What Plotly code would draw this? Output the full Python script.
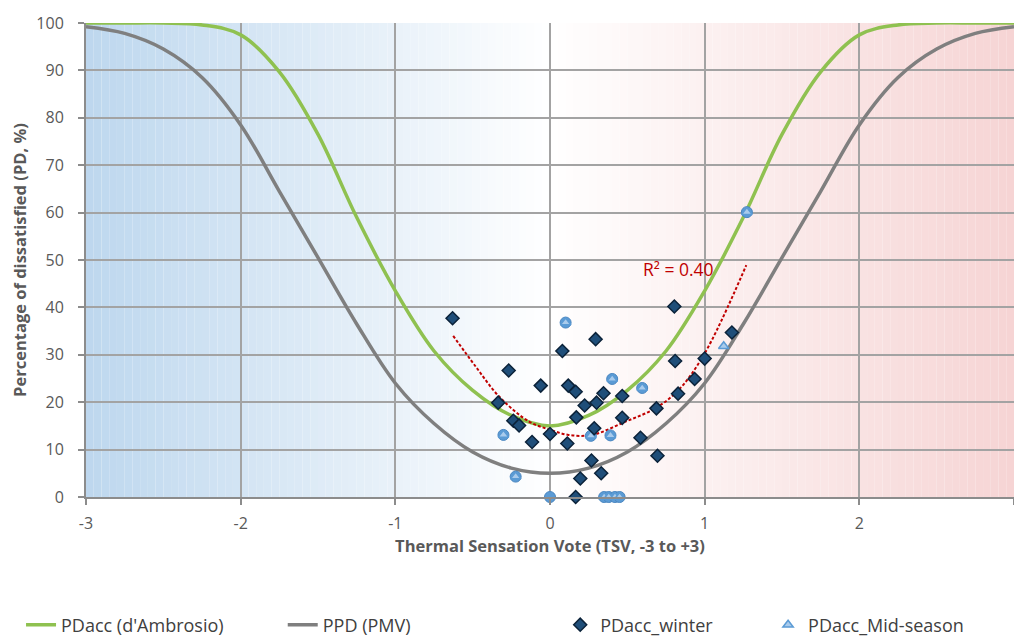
import plotly.graph_objects as go

# ---------------- data ----------------
tsv_curve = [-3.0, -2.75, -2.5, -2.25, -2.0, -1.75, -1.5, -1.25, -1.0, -0.75, -0.5, -0.25,
             0.0, 0.25, 0.5, 0.75, 1.0, 1.25, 1.5, 1.75, 2.0, 2.25, 2.5, 2.75, 3.0]
pdacc_ambrosio = [100, 100, 100, 99.6, 97.5, 89.7, 76.5, 59, 43.5, 30.8, 22.5, 17.2,
                  15, 17.2, 22.5, 30.8, 43.5, 59, 76.5, 89.7, 97.5, 99.6, 100, 100, 100]
ppd_pmv = [99.2, 97.8, 94.5, 88.5, 78.5, 64.5, 50.5, 36.5, 24, 15.5, 9.5, 6.1,
           5, 6.1, 9.5, 15.5, 24, 36.5, 50.5, 64.5, 78.5, 88.5, 94.5, 97.8, 99.2]

winter_tsv = [-0.63, 0.295, 0.08, -0.267, -0.06, 0.118, 0.166, 0.346, 0.467, -0.335,
              0.224, 0.301, 0.17, 0.467, -0.237, -0.2, 0.0, 0.286, -0.116, 0.112,
              0.268, 0.196, 0.331, 0.166, 0.804, 0.809, 1.0, 0.935, 0.828, 0.688,
              0.585, 0.695, 1.176]
winter_pd = [37.7, 33.3, 30.8, 26.7, 23.5, 23.5, 22.2, 21.9, 21.3, 19.9,
             19.3, 19.9, 16.8, 16.7, 16.1, 15.1, 13.3, 14.5, 11.6, 11.3,
             7.7, 3.9, 5.0, 0.0, 40.2, 28.7, 29.2, 24.9, 21.8, 18.7,
             12.5, 8.7, 34.7]

mid_tsv = [0.101, 0.402, 0.596, -0.301, 0.264, 0.391, -0.222, 0.35, 0.38, 0.42, 0.45, 1.123, 1.273]
mid_pd = [36.8, 24.9, 23.0, 13.1, 12.9, 13.0, 4.3, 0.0, 0.0, 0.0, 0.0, 31.8, 60.1]

other_tsv = [0.101, 0.402, 0.596, -0.301, 0.264, 0.391, -0.222, 0.0, 0.35, 0.38, 0.42, 0.45, 1.273]
other_pd = [36.8, 24.9, 23.0, 13.1, 12.9, 13.0, 4.3, 0.0, 0.0, 0.0, 0.0, 0.0, 60.1]

trend_tsv = [-0.626, -0.48, -0.329, -0.135, 0.0, 0.12, 0.273, 0.488, 0.68, 0.832, 1.0, 1.269]
trend_pd = [34.0, 27.5, 21.2, 15.9, 14.2, 13.1, 13.1, 15.9, 18.7, 22.6, 30.3, 48.9]

r2_label = "R² = 0.40"
x_ticks = [-3, -2, -1, 0, 1, 2, 3]
y_ticks = [0, 10, 20, 30, 40, 50, 60, 70, 80, 90, 100]

# ---------------- figure ----------------
fig = go.Figure()

def mix(c1, c2, t):
    return "rgb(%d,%d,%d)" % tuple(round(a + (b - a) * t) for a, b in zip(c1, c2))

blue = (189, 215, 238)
white = (255, 255, 255)
pink = (246, 212, 212)
n = 60
shapes = []
for i in range(n):
    x0 = -3 + 3 * i / n
    x1 = -3 + 3 * (i + 1) / n
    t = (i + 0.5) / n
    shapes.append(dict(type="rect", xref="x", yref="y", x0=x0, x1=x1, y0=0, y1=100,
                       fillcolor=mix(blue, white, t), line=dict(width=0), layer="below"))
for i in range(n):
    x0 = 3 * i / n
    x1 = 3 * (i + 1) / n
    t = (i + 0.5) / n
    shapes.append(dict(type="rect", xref="x", yref="y", x0=x0, x1=x1, y0=0, y1=100,
                       fillcolor=mix(white, pink, t), line=dict(width=0), layer="below"))

fig.add_trace(go.Scatter(x=tsv_curve, y=pdacc_ambrosio, mode="lines", name="PDacc (d'Ambrosio)",
                         line=dict(color="#8fc150", width=3.5, shape="spline", smoothing=1.0),
                         cliponaxis=False, legend="legend"))
fig.add_trace(go.Scatter(x=tsv_curve, y=ppd_pmv, mode="lines", name="PPD (PMV)",
                         line=dict(color="#7f7f7f", width=3.5, shape="spline", smoothing=1.0),
                         cliponaxis=False, legend="legend2"))
fig.add_trace(go.Scatter(x=trend_tsv, y=trend_pd, mode="lines", showlegend=False,
                         line=dict(color="#c00000", width=2, dash="3px,2px", shape="spline"),
                         cliponaxis=False))
fig.add_trace(go.Scatter(x=other_tsv, y=other_pd, mode="markers", showlegend=False,
                         marker=dict(symbol="circle", size=11, color="#5b9bd5",
                                     line=dict(color="#4a86c0", width=1)),
                         cliponaxis=False))
fig.add_trace(go.Scatter(x=mid_tsv, y=mid_pd, mode="markers", name="PDacc_Mid-season",
                         marker=dict(symbol="triangle-up", size=9, color="#a9cbec",
                                     line=dict(color="#5b9bd5", width=1.5)),
                         cliponaxis=False, legend="legend4"))
fig.add_trace(go.Scatter(x=winter_tsv, y=winter_pd, mode="markers", name="PDacc_winter",
                         marker=dict(symbol="diamond", size=10, color="#1f4e79",
                                     line=dict(color="#0b2239", width=1.5)),
                         cliponaxis=False, legend="legend3"))

fig.add_annotation(x=0.83, y=48.0, xref="x", yref="y", text=r2_label, showarrow=False,
                   font=dict(family="Open Sans, sans-serif", size=17.5, color="#c00000"))

tick_font = dict(family="Open Sans, sans-serif", size=16, color="#595959")
title_font = dict(family="Open Sans, sans-serif", size=16.5, color="#595959")
leg_font = dict(family="Open Sans, sans-serif", size=18, color="#404040")

def leg(x):
    return dict(x=x, y=-0.27, xanchor="left", yanchor="middle", orientation="h",
                font=leg_font, bgcolor="rgba(0,0,0,0)", borderwidth=0)

fig.update_layout(
    width=1014, height=639,
    margin=dict(l=86, r=0, t=23, b=142, autoexpand=False),
    paper_bgcolor="white", plot_bgcolor="white",
    shapes=shapes,
    xaxis=dict(range=[-3, 3], tickvals=x_ticks, ticktext=[str(v) for v in x_ticks],
               showgrid=True, gridcolor="#a3a3a3", gridwidth=1.5, zeroline=False,
               showline=True, linecolor="#8c8c8c", linewidth=2,
               ticks="outside", ticklen=6, tickcolor="#8c8c8c", tickwidth=2,
               tickfont=tick_font, automargin=False, ticklabelstandoff=5,
               title=dict(text="<b>Thermal Sensation Vote (TSV, -3 to +3)</b>", font=title_font,
                          standoff=0)),
    yaxis=dict(range=[0, 100], tickvals=y_ticks,
               showgrid=True, gridcolor="#a3a3a3", gridwidth=1.5, zeroline=False,
               showline=True, linecolor="#8c8c8c", linewidth=2,
               ticks="outside", ticklen=6, tickcolor="#8c8c8c", tickwidth=2,
               tickfont=tick_font, automargin=False, ticklabelstandoff=11,
               title=dict(text="<b>Percentage of dissatisfied (PD, %)</b>", font=title_font,
                          standoff=6)),
    legend=leg(-0.07),
    legend2=leg(0.212),
    legend3=leg(0.511),
    legend4=leg(0.735),
)

fig.write_html("out.html",
               config={"displayModeBar": False},
               post_script="document.documentElement.style.margin='0';"
                           "document.body.style.margin='0';"
                           "document.body.style.overflow='hidden';")
